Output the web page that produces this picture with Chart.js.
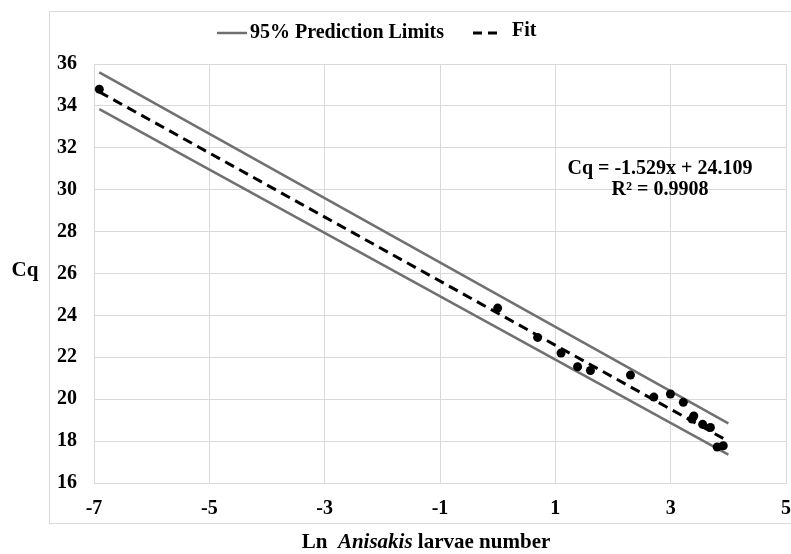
<!DOCTYPE html>
<html>
<head>
<meta charset="utf-8">
<title>Cq vs Ln Anisakis larvae number</title>
<script src="https://cdn.jsdelivr.net/npm/chart.js@4.4.0/dist/chart.umd.js"></script>
<style>
  html, body { margin: 0; padding: 0; background: #fff; }
  #wrap { width: 791px; height: 554px; }
</style>
</head>
<body>
<div id="wrap"><canvas id="myChart" width="791" height="554"></canvas></div>
<script>
// Standard curve: Cq against ln of larvae number
const sampleLn = [-6.908, 0, 0.693, 1.099, 1.386, 1.609, 2.303, 2.708, 2.996, 3.219, 3.37, 3.401, 3.555, 3.689, 3.807, 3.912];
const sampleCq = [34.8, 24.35, 22.95, 22.2, 21.55, 21.37, 21.15, 20.1, 20.25, 19.85, 19.05, 19.2, 18.8, 18.65, 17.72, 17.78];

// Regression line as printed on the chart
const slope = -1.529;
const intercept = 24.109;
const rSquared = 0.9908;
const fitLn = [-6.908, 3.912];

// 95% prediction limits (end points)
const limitLn = [-6.908, 4.0];
const upperCq = [35.6, 18.85];
const lowerCq = [33.85, 17.35];

const xTicks = [-7, -5, -3, -1, 1, 3, 5];
const yTicks = [16, 18, 20, 22, 24, 26, 28, 30, 32, 34, 36];

const SERIF = '"Liberation Serif", "Times New Roman", serif';
const GRID = '#d9d9d9';
const LIMIT_GRAY = '#707070';

const toPoints = (xs, ys) => xs.map((x, i) => ({ x: x, y: ys[i] }));
const fitPoints = fitLn.map(x => ({ x: x, y: slope * x + intercept }));

// Text, legend and outer frame drawn straight on the canvas
const annotations = {
    id: 'annotations',
    beforeDraw(chart) {
        const ctx = chart.ctx;
        ctx.save();
        ctx.fillStyle = '#fff';
        ctx.fillRect(0, 0, chart.width, chart.height);
        ctx.strokeStyle = GRID;
        ctx.lineWidth = 1;
        ctx.strokeRect(49.5, 11.5, 800, 512);
        ctx.restore();
    },
    afterDraw(chart) {
        const ctx = chart.ctx;
        ctx.save();
        ctx.fillStyle = '#000';
        ctx.textBaseline = 'middle';

        // legend
        ctx.strokeStyle = LIMIT_GRAY;
        ctx.lineWidth = 2.5;
        ctx.beginPath();
        ctx.moveTo(217, 33);
        ctx.lineTo(247, 33);
        ctx.stroke();
        ctx.font = 'bold 20px ' + SERIF;
        ctx.textAlign = 'left';
        ctx.fillText('95% Prediction Limits', 250, 33);

        ctx.strokeStyle = '#000';
        ctx.lineWidth = 3;
        ctx.setLineDash([9, 6]);
        ctx.beginPath();
        ctx.moveTo(473, 33);
        ctx.lineTo(500, 33);
        ctx.stroke();
        ctx.setLineDash([]);
        ctx.fillText('Fit', 512, 31);

        // regression equation
        ctx.textAlign = 'center';
        ctx.fillText('Cq = ' + slope.toFixed(3) + 'x + ' + intercept.toFixed(3), 660, 169);
        ctx.fillText('R\u00B2 = ' + rSquared.toFixed(4), 660, 190);

        // y axis title
        ctx.font = 'bold 21px ' + SERIF;
        ctx.fillText('Cq', 25, 271);

        // x axis title, genus name in italics
        const parts = [
            { t: 'Ln  ', f: 'bold 21px ' + SERIF },
            { t: 'Anisakis', f: 'italic bold 21px ' + SERIF },
            { t: ' larvae number', f: 'bold 21px ' + SERIF }
        ];
        let total = 0;
        parts.forEach(p => { ctx.font = p.f; p.w = ctx.measureText(p.t).width; total += p.w; });
        let x = 426 - total / 2;
        ctx.textAlign = 'left';
        parts.forEach(p => { ctx.font = p.f; ctx.fillText(p.t, x, 543); x += p.w; });

        ctx.restore();
    }
};

new Chart(document.getElementById('myChart'), {
    type: 'scatter',
    data: {
        datasets: [
            {
                label: 'Samples',
                data: toPoints(sampleLn, sampleCq),
                backgroundColor: '#000',
                borderWidth: 0,
                pointRadius: 4.5
            },
            {
                label: 'Fit',
                data: fitPoints,
                showLine: true,
                borderColor: '#000',
                borderWidth: 3,
                borderDash: [10, 6],
                pointRadius: 0
            },
            {
                label: '95% Prediction Limits',
                data: toPoints(limitLn, upperCq),
                showLine: true,
                borderColor: LIMIT_GRAY,
                borderWidth: 2.5,
                pointRadius: 0
            },
            {
                label: '95% Prediction Limits (lower)',
                data: toPoints(limitLn, lowerCq),
                showLine: true,
                borderColor: LIMIT_GRAY,
                borderWidth: 2.5,
                pointRadius: 0
            }
        ]
    },
    options: {
        responsive: false,
        animation: false,
        layout: { padding: { left: 0, top: 64, right: 5, bottom: 0 } },
        plugins: {
            legend: { display: false },
            tooltip: { enabled: false }
        },
        scales: {
            x: {
                type: 'linear',
                min: xTicks[0],
                max: xTicks[xTicks.length - 1],
                afterFit(scale) {
                    scale.height = 71;
                    scale.paddingLeft = 0;
                    scale.paddingRight = 0;
                },
                afterBuildTicks(scale) { scale.ticks = xTicks.map(v => ({ value: v })); },
                grid: { color: GRID, drawTicks: false },
                border: { color: GRID },
                ticks: {
                    padding: 14,
                    color: '#000',
                    maxRotation: 0,
                    font: { family: SERIF, size: 20, weight: 'bold' }
                }
            },
            y: {
                min: yTicks[0],
                max: yTicks[yTicks.length - 1],
                afterFit(scale) {
                    scale.width = 94;
                    scale.paddingTop = 0;
                    scale.paddingBottom = 0;
                },
                afterBuildTicks(scale) { scale.ticks = yTicks.map(v => ({ value: v })); },
                grid: { color: GRID, drawTicks: false },
                border: { color: GRID },
                ticks: {
                    padding: 17,
                    color: '#000',
                    font: { family: SERIF, size: 20, weight: 'bold' }
                }
            }
        }
    },
    plugins: [annotations]
});
</script>
</body>
</html>
